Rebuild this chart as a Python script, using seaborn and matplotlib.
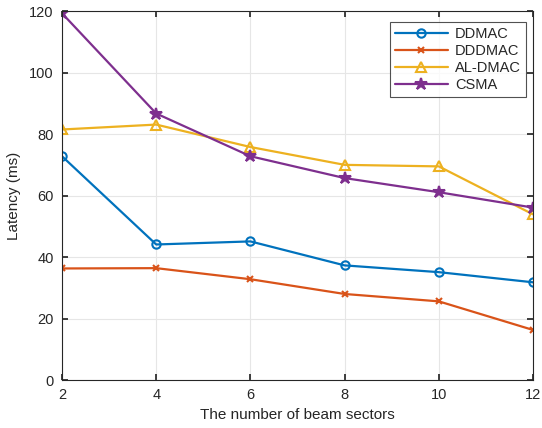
import matplotlib
matplotlib.use("Agg")
import matplotlib.pyplot as plt
import seaborn as sns
import pandas as pd

x_sectors = [2, 4, 6, 8, 10, 12]
ddmac = [72.8, 44.1, 45.1, 37.3, 35.1, 31.8]
dddmac = [36.3, 36.4, 32.8, 28.0, 25.6, 16.3]
aldmac = [81.5, 83.1, 75.8, 70.0, 69.5, 53.9]
csma = [119.3, 86.7, 72.8, 65.7, 61.1, 56.1]

series_names = ["DDMAC", "DDDMAC", "AL-DMAC", "CSMA"]
colors = ["#0072BD", "#D95319", "#EDB120", "#7E2F8E"]
markers = ["o", "x", "^", "*"]
msizes = [6, 4.5, 7, 9]

sns.set_theme(style="whitegrid")
plt.rcParams['font.family'] = ['Liberation Sans', 'DejaVu Sans']

df = pd.DataFrame({
    "x": x_sectors * 4,
    "y": ddmac + dddmac + aldmac + csma,
    "series": sum([[n] * len(x_sectors) for n in series_names], []),
})

fig = plt.figure(figsize=(5.42, 4.28), dpi=100)
ax = fig.add_axes([0.1144, 0.112, 0.8690, 0.862])

for name, c, m, ms in zip(series_names, colors, markers, msizes):
    sub = df[df["series"] == name]
    sns.lineplot(data=sub, x="x", y="y", ax=ax, color=c, marker=m, markersize=ms,
                 markerfacecolor="none" if m != "*" else c,
                 markeredgecolor=c, markeredgewidth=1.5, linewidth=1.6,
                 label=name, estimator=None)

ax.set_xlim(2, 12)
ax.set_ylim(0, 120)
ax.set_xticks(x_sectors)
ax.set_yticks([0, 20, 40, 60, 80, 100, 120])
ax.set_xlabel("The number of beam sectors", fontsize=11, color="#262626", labelpad=4)
ax.set_ylabel("Latency (ms)", fontsize=11, color="#262626", labelpad=6)
ax.tick_params(axis="both", labelsize=10.5, colors="#262626", direction="in", length=4,
               bottom=True, left=True, top=True, right=True, pad=6)
ax.grid(True, color="#e6e6e6", linewidth=0.8)
for s in ax.spines.values():
    s.set_visible(True)
    s.set_color("#262626")
    s.set_linewidth(0.8)
ax.set_facecolor("white")

leg = ax.legend(loc="upper right", fontsize=10.5, frameon=True, fancybox=False,
                edgecolor="#262626", handlelength=3.6, borderpad=0.35,
                labelspacing=0.2, borderaxespad=0, bbox_to_anchor=(0.985, 0.97),
                handletextpad=0.5)
leg.get_frame().set_linewidth(0.8)

fig.savefig("out.png", dpi=100)
